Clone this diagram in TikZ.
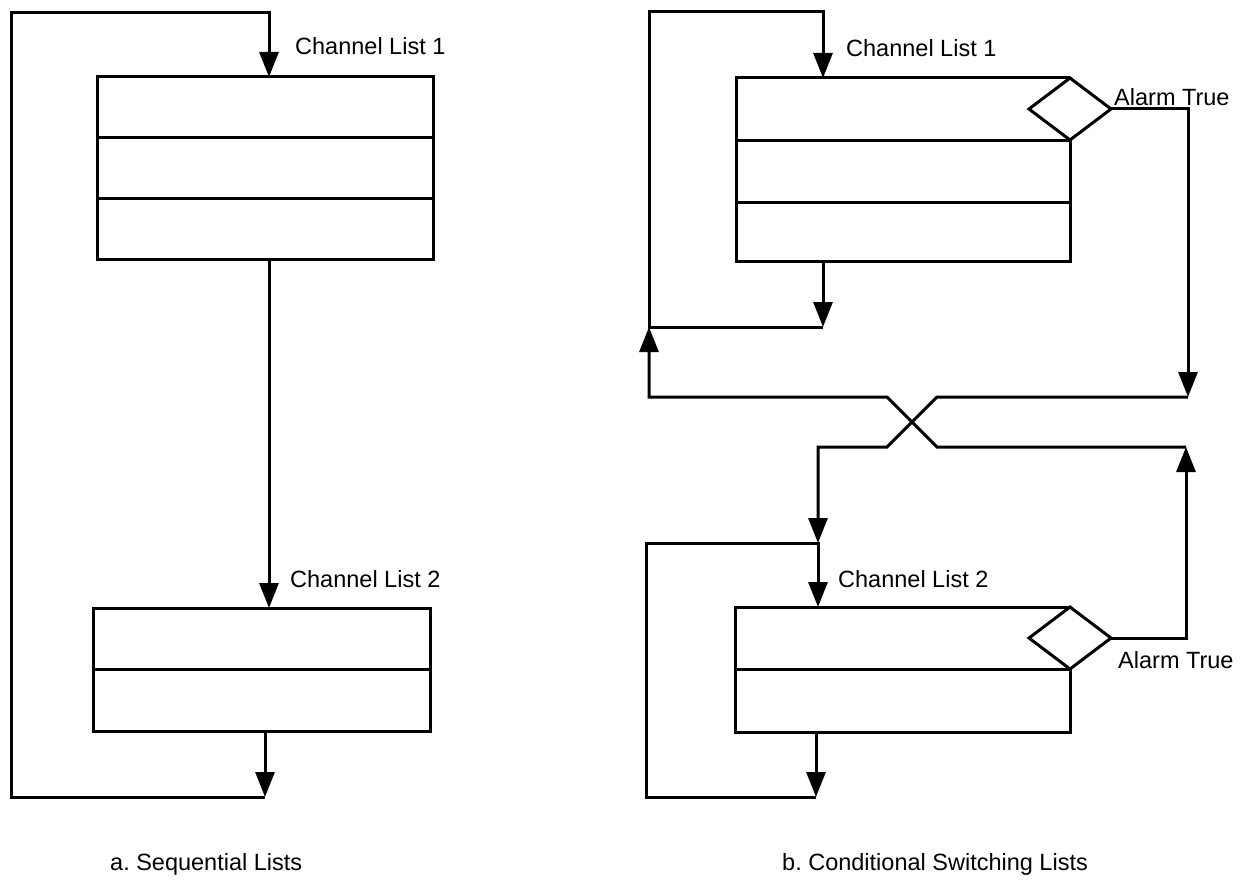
\documentclass[tikz,border=0pt]{standalone}
\usepackage{fontspec}
\setmainfont{Liberation Sans}
\usetikzlibrary{arrows.meta,shapes.geometric,calc}
\frenchspacing
\begin{document}
\begin{tikzpicture}[x=1pt,y=-1pt,
  ln/.style={line width=3pt},
  arr/.style={ln,-{Triangle[width=19pt,length=25pt]}},
  listbox/.style={draw,ln,inner sep=0pt,outer sep=0pt},
  frame/.style={inner sep=0pt,outer sep=0pt},
  cond/.style={diamond,draw,ln,inner sep=0pt,outer sep=0pt,minimum width=82pt,minimum height=62pt},
  lbl/.style={inner sep=0pt,anchor=base west,font=\fontsize{23.5}{28}\selectfont}]
\useasboundingbox (0,0) rectangle (1246,888);

% ---------------- (a) Sequential Lists ----------------
\node[listbox,minimum width=336pt,minimum height=182pt] (a1) at (265,168) {};
\node[listbox,minimum width=337pt,minimum height=123pt] (a2) at (262,669.5) {};
\draw[ln] ($(a1.north west)!1/3!(a1.south west)$) -- ($(a1.north east)!1/3!(a1.south east)$);
\draw[ln] ($(a1.north west)!2/3!(a1.south west)$) -- ($(a1.north east)!2/3!(a1.south east)$);
\draw[ln] (a2.west) -- (a2.east);

\coordinate (aTL) at (11,13);
\coordinate (aTR) at (269,13);
\coordinate (aBL) at (11,797);
\coordinate (aBR) at (265,797);

\draw[arr] (a2.south -| aBR) -- (aBR);
\draw[arr] (aBR) -- (aBL) -- (aTL) -- (aTR) -- (a1.north -| aTR);
\draw[arr] (a1.south -| aTR) -- (a2.north -| aTR);

\node[lbl] (ta1) at (295,55) {Channel List 1};
\node[lbl] (ta2) at (290,587) {Channel List 2};

% ---------------- (b) Conditional Switching Lists ----------------
\node[frame,minimum width=334pt,minimum height=183pt] (b1) at (903,169.5) {};
\node[cond,anchor=north] (d1) at (b1.north east) {};
\draw[ln] (d1.north) -- (b1.north west) -- (b1.south west) -- (b1.south east) -- (d1.south);
\draw[ln] (b1.west |- d1.south) -- (d1.south);
\draw[ln] ($(b1.north west)+(0,124)$) -- ($(b1.north east)+(0,124)$);

\node[frame,minimum width=335pt,minimum height=125pt] (b2) at (902.5,669.5) {};
\node[cond,anchor=north] (d2) at (b2.north east) {};
\draw[ln] (d2.north) -- (b2.north west) -- (b2.south west) -- (b2.south east) -- (d2.south);
\draw[ln] (b2.west |- d2.south) -- (d2.south);

\coordinate (bTL) at (649,12);
\coordinate (bTR) at (823,12);
\coordinate (bJ1) at (823,327);
\coordinate (bJL) at (649,327);
\coordinate (c1) at (1188,397);
\coordinate (c2) at (1186,447);
\coordinate (xA1) at (937,447);
\coordinate (xA2) at (887,397);
\coordinate (xC1) at (937,397);
\coordinate (xC2) at (887,447);
\coordinate (c3) at (818,447);
\coordinate (c4) at (649,397);
\coordinate (m2) at (818,543);
\coordinate (bBL) at (646,797);
\coordinate (bBR) at (816,797);

% list 1 -> back to its own start
\draw[arr] (b1.south -| bJ1) -- (bJ1);
\draw[arr] (bJ1) -- (bJL) -- (bTL) -- (bTR) -- (b1.north -| bTR);
% alarm in list 1 -> list 2
\draw[arr] (d1.east) -| (c1);
\draw[arr] (c1) -- (xC1) -- (xC2) -- (c3) -- (m2);
% alarm in list 2 -> list 1
\draw[arr] (d2.east) -| (c2);
\draw[arr] (c2) -- (xA1) -- (xA2) -- (c4) -- (bJL);
% list 2 -> back to its own start
\draw[arr] (b2.south -| bBR) -- (bBR);
\draw[arr] (bBR) -- (bBL) -- (m2 -| bBL) -- (m2) -- (b2.north -| m2);

\node[lbl] (tb1) at (846,57) {Channel List 1};
\node[lbl] (tb2) at (838,587) {Channel List 2};
\node[lbl] (al1) at (1114,106) {Alarm True};
\node[lbl] (al2) at (1118,668) {Alarm True};

% captions
\node[lbl] (capa) at (110,870) {a. Sequential Lists};
\node[lbl] (capb) at (782,870) {b. Conditional Switching Lists};
\end{tikzpicture}
\end{document}
